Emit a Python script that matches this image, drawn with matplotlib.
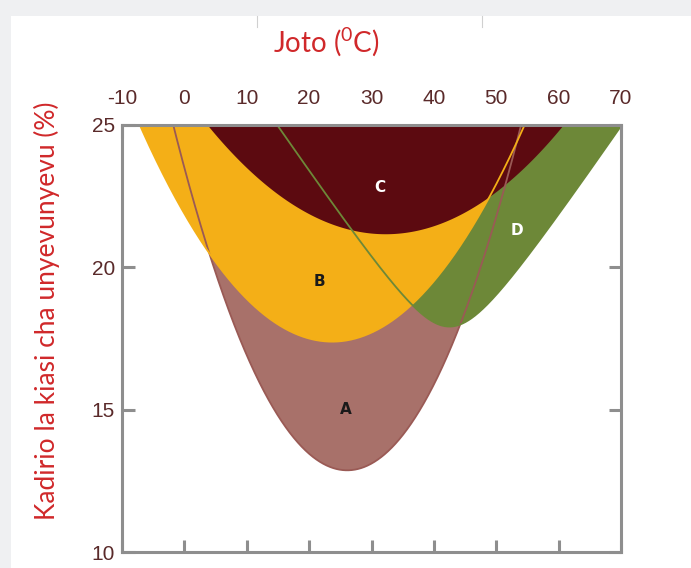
import numpy as np
import matplotlib
matplotlib.use("Agg")
import matplotlib.pyplot as plt
from matplotlib.patches import Rectangle
from matplotlib.lines import Line2D

plt.rcParams["mathtext.fontset"] = "custom"
plt.rcParams["mathtext.rm"] = "Lato"

# ---- data ----
zones = ["A", "B", "C", "D"]
vertex_temp = [26.1, 23.7, 32.2, 42.5]          # temperature (°C) at the lowest point of each zone boundary
vertex_moist = [12.87, 17.39, 21.18, 17.92]     # moisture (%) at the lowest point
curvature = [0.0156, 0.0080, 0.0047, 0.0252]    # rise of the boundary near its lowest point (% per °C²)
corner_radius = [np.inf, np.inf, np.inf, 6.4]   # °C; inf = parabolic boundary, finite = straighter sides
label_temp = [25.8, 21.7, 31.4, 53.3]
label_moist = [15.0, 19.5, 22.8, 21.3]

x_ticks = [-10, 0, 10, 20, 30, 40, 50, 60, 70]
y_ticks = [10, 15, 20, 25]

fill_colors = {"A": "#A8716A", "B": "#F4AF17", "C": "#5C0A10", "D": "#6D8838"}
line_colors = {"A": "#9A5A55", "B": "#F4AF17", "C": "#5C0A10", "D": "#6D8838"}
label_colors = {"A": "#1a1a1a", "B": "#1a1a1a", "C": "white", "D": "white"}
draw_order = ["A", "D", "B", "C"]

W, H, DPI = 691, 568, 100
fig = plt.figure(figsize=(W / DPI, H / DPI), dpi=DPI)
fig.patch.set_facecolor("#EFF0F2")
fig.add_artist(Rectangle((11 / W, 0), 1 - 11 / W, 1 - 16 / H, transform=fig.transFigure,
                         facecolor="white", edgecolor="none", zorder=0))
for px in (257, 482):
    fig.add_artist(Line2D([px / W, px / W], [1 - 16 / H, 1 - 27 / H], transform=fig.transFigure,
                          color="#D0D0D0", lw=0.8))

ax = fig.add_axes([122 / W, 16 / H, (621 - 122) / W, (552 - 125) / H])
ax.set_xlim(-10, 70)
ax.set_ylim(10, 25)

xs = np.linspace(-10, 70, 1601)
curves = {}
for z, x0, y0, k, r in zip(zones, vertex_temp, vertex_moist, curvature, corner_radius):
    dx = xs - x0
    if np.isinf(r):
        curves[z] = y0 + k * dx ** 2
    else:
        curves[z] = y0 + 2 * k * r ** 2 * (np.sqrt(1 + (dx / r) ** 2) - 1)

for i, z in enumerate(draw_order):
    ax.fill_between(xs, curves[z], 40, color=fill_colors[z], lw=0, zorder=1 + i)

for z in ["A", "B", "D"]:
    ax.plot(xs, curves[z], color=line_colors[z], lw=1.3, zorder=6)

for z, lx, ly in zip(zones, label_temp, label_moist):
    ax.text(lx, ly, z, color=label_colors[z], fontsize=11, fontweight="bold",
            ha="center", va="center", family="DejaVu Sans", zorder=7)

spine_col = "#8E8E8E"
for s in ax.spines.values():
    s.set_color(spine_col)
    s.set_linewidth(2.2)
    s.set_zorder(8)

ax.xaxis.tick_top()
ax.set_xticks(x_ticks)
ax.set_xticklabels([str(v) for v in x_ticks])
ax.set_yticks(y_ticks)
ax.set_yticklabels([str(v) for v in y_ticks])
ax.tick_params(axis="both", which="major", direction="in", length=9, width=2.2,
               color=spine_col, top=True, bottom=True, left=True, right=True,
               labeltop=True, labelbottom=False, labelleft=True, labelright=False,
               labelsize=15, labelcolor="#5A2A2A")
ax.tick_params(axis="x", pad=12)
ax.tick_params(axis="y", pad=5)
for lab in ax.get_xticklabels() + ax.get_yticklabels():
    lab.set_family(["Liberation Sans", "DejaVu Sans"])

fig.text(326 / W, 1 - 42 / H, r"Joto ($\mathrm{^{0}}$C)", color="#D0282A", fontsize=20,
         ha="center", va="center", family="Lato")
fig.text(47 / W, 1 - 311 / H, "Kadirio la kiasi cha unyevunyevu (%)", color="#D0282A",
         fontsize=19, rotation=90, ha="center", va="center", family="Lato")

fig.savefig("out.png", dpi=DPI, facecolor=fig.get_facecolor())
